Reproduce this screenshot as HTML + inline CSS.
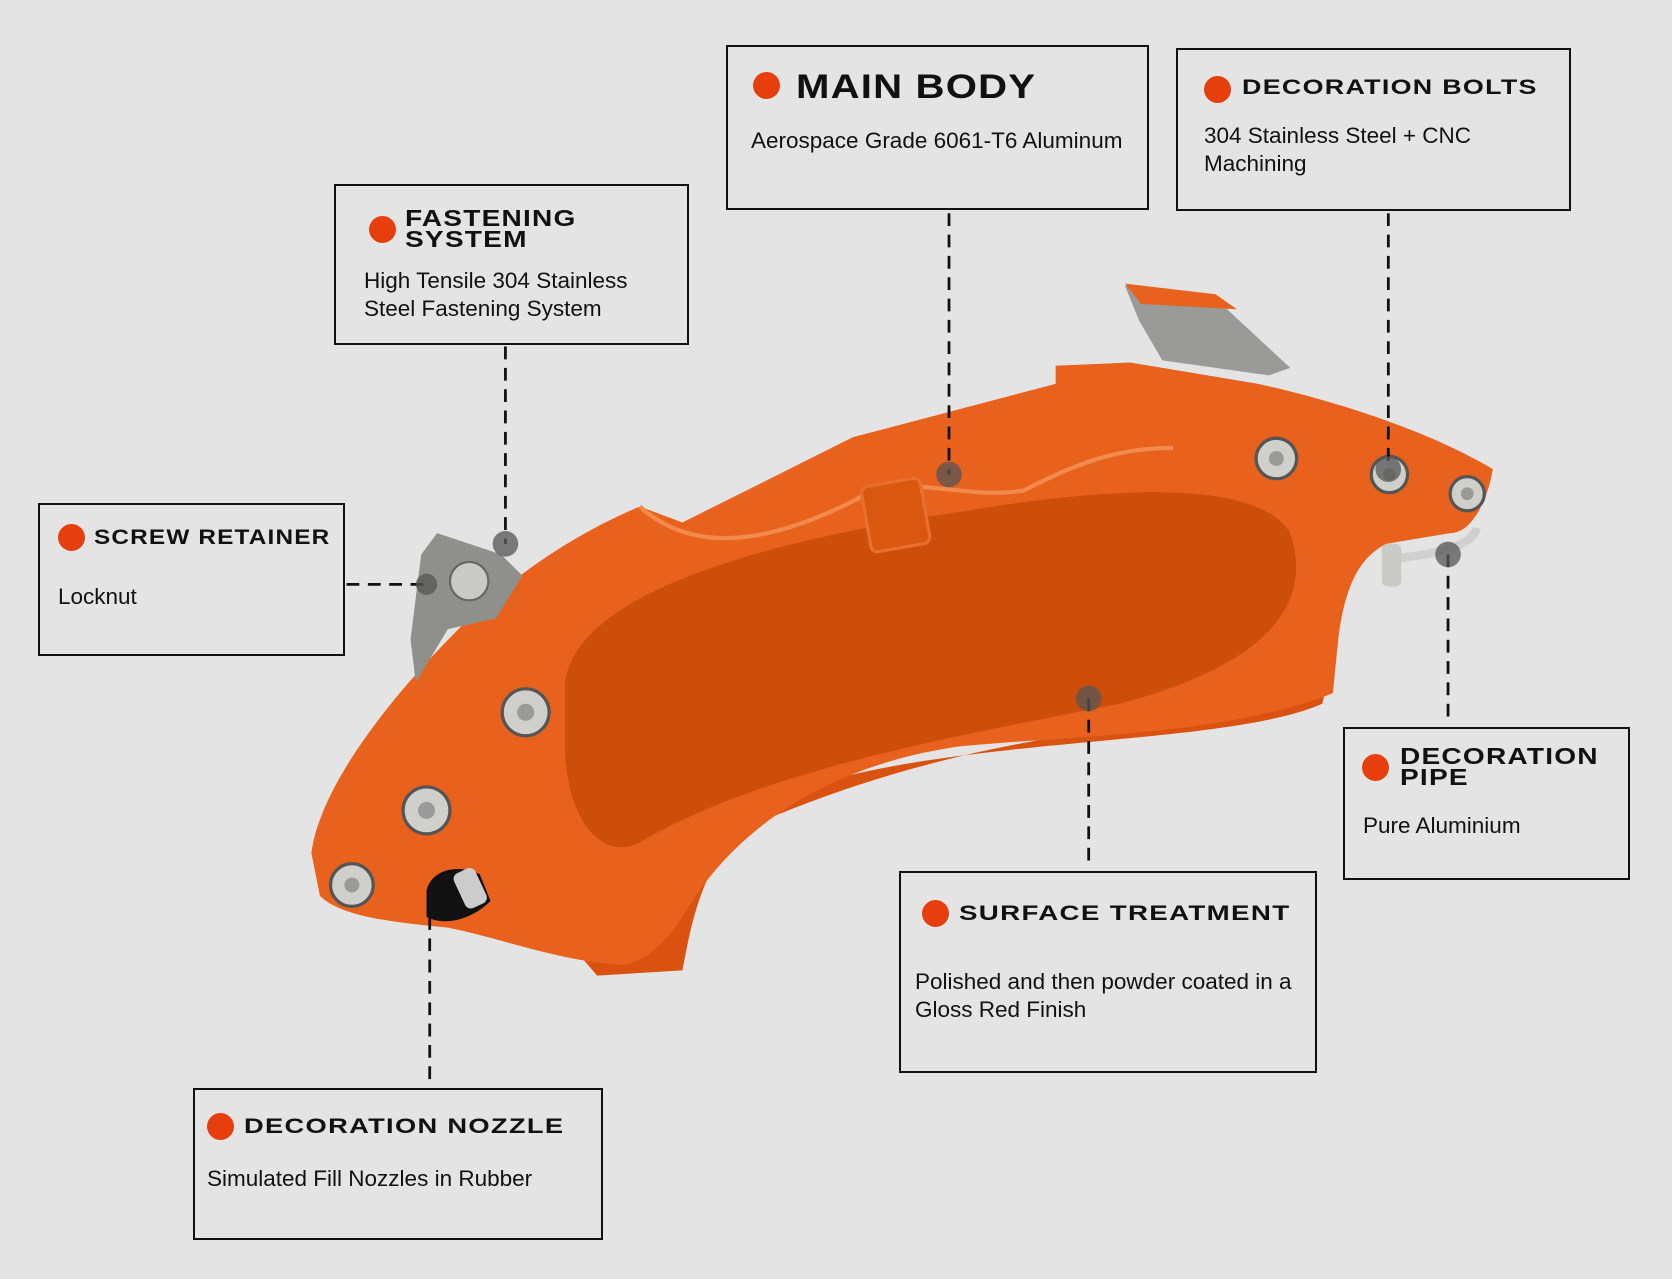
<!DOCTYPE html>
<html><head><meta charset="utf-8"><style>
html,body{margin:0;padding:0}
body{width:1672px;height:1279px;background:#e4e4e4;position:relative;overflow:hidden;font-family:"Liberation Sans",sans-serif}
svg{position:absolute;left:0;top:0}
.box{position:absolute;border:2.5px solid #111;box-sizing:border-box}
.t{position:absolute;font-weight:bold;color:#111;font-size:23px;letter-spacing:1px;line-height:21px;transform-origin:left top;white-space:nowrap}
.d{position:absolute;width:27px;height:27px;border-radius:50%;background:#e63e0c}
.b{position:absolute;font-size:22.5px;color:#111;line-height:28px}
</style></head><body>
<svg width="1672" height="1279" viewBox="0 0 1672 1279">
<g transform="scale(1.0663)">
 <path d="M530,880 C620,800 800,720 1000,690 L1250,640 L1255,600 L1240,660 C1150,700 900,690 750,740 C660,780 650,860 640,910 L560,915 Z" fill="#d9520f"/>
 <path d="M292,800 C300,740 360,660 430,590 C480,540 540,500 600,475 L640,490 L800,410 L990,360 L990,343 L1060,340 L1180,360 C1270,380 1350,410 1400,440 C1395,470 1380,500 1360,500 L1300,510 C1270,525 1260,560 1255,600 L1250,650 C1150,690 1000,690 900,700 C760,720 680,790 640,860 C620,890 600,905 580,905 C520,900 470,880 420,870 C370,865 320,860 300,840 Z" fill="#e8611d"/>
 <path d="M1055,268 L1140,280 L1210,345 L1190,352 L1090,338 L1068,300 Z" fill="#9a9a98"/>
 <path d="M1055,266 L1140,276 L1160,290 L1070,285 Z" fill="#e8611d"/>
 <path d="M600,475 C650,520 720,510 800,470 C850,440 900,470 960,460 C1000,440 1040,420 1100,420" fill="none" stroke="#f28a4d" stroke-width="4"/>
 <path d="M530,640 C540,560 700,510 900,480 C1050,455 1180,450 1210,500 C1230,560 1200,620 1050,660 C900,690 720,720 600,790 C560,810 530,760 530,700 Z" fill="#cd4d0b"/>
 <rect x="812" y="452" width="56" height="62" rx="6" fill="#d9570f" stroke="#e8702e" stroke-width="3" transform="rotate(-10 840 483)"/>
 <path d="M395,520 L410,500 L470,520 L490,540 L465,580 L420,590 L390,640 L385,600 Z" fill="#8f8f8c"/>
 <circle cx="440" cy="545" r="18" fill="#c9c9c6" stroke="#666" stroke-width="2"/>
 <g fill="#cfcfcc" stroke="#555" stroke-width="3">
  <circle cx="493" cy="668" r="22"/><circle cx="400" cy="760" r="22"/><circle cx="330" cy="830" r="20"/>
  <circle cx="1197" cy="430" r="19"/><circle cx="1303" cy="445" r="17"/><circle cx="1376" cy="463" r="16"/>
 </g>
 <g fill="#9a9a98"><circle cx="493" cy="668" r="8"/><circle cx="400" cy="760" r="8"/><circle cx="330" cy="830" r="7"/><circle cx="1197" cy="430" r="7"/><circle cx="1303" cy="445" r="6"/><circle cx="1376" cy="463" r="6"/></g>
 <path d="M400,835 C405,815 430,810 450,820 L460,845 C445,860 420,870 400,860 Z" fill="#111"/>
 <rect x="430" y="815" width="22" height="36" rx="6" fill="#ccc" transform="rotate(-25 441 833)"/>
 <path d="M1300,525 C1340,520 1380,515 1385,495" fill="none" stroke="#d0d0d0" stroke-width="8"/>
 <rect x="1296" y="510" width="18" height="40" rx="5" fill="#c9c9c6"/>
 <g stroke="#111" stroke-width="2.6" stroke-dasharray="12,8" fill="none">
  <line x1="890" y1="200" x2="890" y2="445"/>
  <line x1="1302" y1="200" x2="1302" y2="440"/>
  <line x1="474" y1="325" x2="474" y2="510"/>
  <line x1="325" y1="548" x2="400" y2="548"/>
  <line x1="1358" y1="520" x2="1358" y2="680"/>
  <line x1="1021" y1="655" x2="1021" y2="815"/>
  <line x1="403" y1="860" x2="403" y2="1018"/>
 </g>
 <g fill="#555" opacity="0.75">
  <circle cx="890" cy="445" r="12"/><circle cx="1302" cy="440" r="12"/><circle cx="474" cy="510" r="12"/><circle cx="1358" cy="520" r="12"/><circle cx="1021" cy="655" r="12"/><circle cx="400" cy="548" r="10"/>
 </g>
</g>
</svg>

<div class="box" style="left:726px;top:45px;width:423px;height:165px"></div>
<div class="d" style="left:753px;top:72px"></div>
<div class="t" style="left:796px;top:72px;font-size:34px;line-height:30px;transform:scaleX(1.18)">MAIN BODY</div>
<div class="b" style="left:751px;top:127px">Aerospace Grade 6061-T6 Aluminum</div>

<div class="box" style="left:1176px;top:48px;width:395px;height:163px"></div>
<div class="d" style="left:1204px;top:76px"></div>
<div class="t" style="left:1242px;top:77px;font-size:21px;transform:scaleX(1.28)">DECORATION BOLTS</div>
<div class="b" style="left:1204px;top:122px">304 Stainless Steel + CNC<br>Machining</div>

<div class="box" style="left:334px;top:184px;width:355px;height:161px"></div>
<div class="d" style="left:369px;top:216px"></div>
<div class="t" style="left:405px;top:208px;transform:scaleX(1.22)">FASTENING<br>SYSTEM</div>
<div class="b" style="left:364px;top:267px">High Tensile 304 Stainless<br>Steel Fastening System</div>

<div class="box" style="left:38px;top:503px;width:307px;height:153px"></div>
<div class="d" style="left:58px;top:524px"></div>
<div class="t" style="left:94px;top:527px;font-size:21px;transform:scaleX(1.16)">SCREW RETAINER</div>
<div class="b" style="left:58px;top:583px">Locknut</div>

<div class="box" style="left:1343px;top:727px;width:287px;height:153px"></div>
<div class="d" style="left:1362px;top:754px"></div>
<div class="t" style="left:1400px;top:746px;transform:scaleX(1.22)">DECORATION<br>PIPE</div>
<div class="b" style="left:1363px;top:812px">Pure Aluminium</div>

<div class="box" style="left:899px;top:871px;width:418px;height:202px"></div>
<div class="d" style="left:922px;top:900px"></div>
<div class="t" style="left:959px;top:903px;font-size:21px;transform:scaleX(1.32)">SURFACE TREATMENT</div>
<div class="b" style="left:915px;top:968px">Polished and then powder coated in a<br>Gloss Red Finish</div>

<div class="box" style="left:193px;top:1088px;width:410px;height:152px"></div>
<div class="d" style="left:207px;top:1113px"></div>
<div class="t" style="left:244px;top:1116px;font-size:21px;transform:scaleX(1.30)">DECORATION NOZZLE</div>
<div class="b" style="left:207px;top:1165px">Simulated Fill Nozzles in Rubber</div>
</body></html>
